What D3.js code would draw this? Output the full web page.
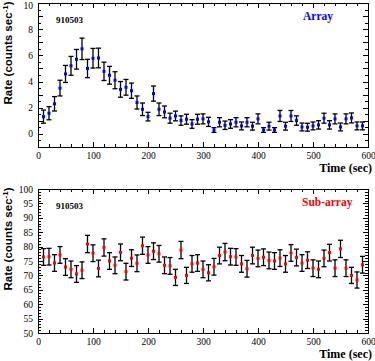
<!DOCTYPE html>
<html><head><meta charset="utf-8">
<script src="https://cdn.jsdelivr.net/npm/d3@7"></script>
<style>
html,body{margin:0;padding:0;background:#fff;}
svg{display:block;}
.tick text{font-family:"Liberation Serif",serif;font-size:9.5px;}
</style></head>
<body>
<script>
// Time bins (sec)
const times = [10,20,30,40,50,60,70,80,90,100,110,120,130,140,150,160,170,180,190,200,
  210,220,230,240,250,260,270,280,290,300,310,320,330,340,350,360,370,380,390,400,
  410,420,430,440,450,460,470,480,490,500,510,520,530,540,550,560,570,580,590];
// Array rate
const arrayRate = [1.32,1.58,2.3,3.5,4.58,5.2,5.7,6.5,5.0,5.78,5.8,4.78,4.48,4.1,3.4,3.56,3.3,2.4,1.88,1.32,
  3.08,1.88,1.68,1.2,1.37,1.02,1.12,0.76,1.12,1.15,0.92,0.3,0.89,0.66,0.76,0.89,0.61,0.89,0.59,1.15,
  0.3,0.59,0.3,1.37,0.59,1.37,1.02,0.53,0.51,0.61,0.69,1.2,0.69,1.15,0.53,1.15,1.22,0.61,0.61];
const arrayErr = [0.5,0.5,0.55,0.6,0.65,0.72,0.75,0.82,0.7,0.75,0.75,0.7,0.68,0.65,0.6,0.6,0.58,0.5,0.48,0.33,
  0.58,0.48,0.45,0.38,0.37,0.36,0.38,0.33,0.38,0.38,0.35,0.18,0.35,0.32,0.33,0.35,0.3,0.35,0.3,0.38,
  0.18,0.3,0.18,0.42,0.3,0.42,0.36,0.3,0.3,0.3,0.32,0.38,0.32,0.38,0.3,0.38,0.38,0.3,0.3];
// Sub-array rate
const subRate = [76.4,76.5,74.3,77.1,72.9,72.1,70.5,71.8,80.9,77.7,72.4,79.7,75.0,73.5,78.0,71.3,76.0,74.2,80.3,77.1,
  78.4,77.5,73.5,73.3,69.3,78.8,70.0,74.0,74.3,72.1,70.9,73.0,76.9,78.1,76.5,76.4,74.0,72.3,76.9,75.9,
  76.3,75.2,75.0,76.0,74.0,77.8,76.2,74.3,75.3,72.5,72.1,75.9,77.9,72.5,79.2,72.5,70.0,68.4,73.7];
const subErr = [2.9,2.9,2.9,2.9,2.9,2.9,2.9,2.9,3.0,2.9,2.9,3.0,2.9,2.9,2.9,2.9,2.9,2.9,3.0,2.9,
  2.9,2.9,2.9,2.9,2.8,3.0,2.8,2.9,2.9,2.9,2.8,2.9,2.9,3.0,2.9,2.9,2.9,2.9,2.9,2.9,
  2.9,2.9,2.9,2.9,2.9,2.9,2.9,2.9,2.9,2.9,2.9,2.9,2.9,2.9,3.0,2.9,2.8,2.8,2.9];
const xTicks = [0,100,200,300,400,500,600];
const topTicks = [0,2,4,6,8,10];
const botTicks = [50,55,60,65,70,75,80,85,90,95,100];

const W=375,H=361;
const svg=d3.select("body").append("svg").attr("width",W).attr("height",H);

function panel(cfg){
  const {y0,y1,domain,values,errs,color,label,yTicks,majorStep,minorStep} = cfg;
  const x=d3.scaleLinear().domain([0,600]).range([38,368]);
  const y=d3.scaleLinear().domain(domain).range([y1,y0]);
  const g=svg.append("g");
  const xMinor=d3.range(0,601,20), yMinor=d3.range(domain[0],domain[1]+1e-9,minorStep);
  const tk=g.append("g").attr("stroke","#000").attr("stroke-width",1);
  xMinor.forEach(v=>{
    const L = (v%100===0)?5:3;
    const px=Math.round(x(v))+0.5;
    tk.append("line").attr("x1",px).attr("x2",px).attr("y1",y1).attr("y2",y1-L);
    tk.append("line").attr("x1",px).attr("x2",px).attr("y1",y0).attr("y2",y0+L);
  });
  yMinor.forEach(v=>{
    const isMaj = Math.abs(v/majorStep-Math.round(v/majorStep))<1e-6;
    const L = isMaj?5:3;
    const py=Math.round(y(v))+0.5;
    tk.append("line").attr("y1",py).attr("y2",py).attr("x1",38).attr("x2",38+L);
    tk.append("line").attr("y1",py).attr("y2",py).attr("x1",368).attr("x2",368-L);
  });
  const xa=g.append("g").attr("transform",`translate(0,${y1})`)
    .call(d3.axisBottom(x).tickValues(xTicks).tickSize(0).tickPadding(5));
  xa.select(".domain").remove();
  const ya=g.append("g").attr("transform",`translate(38,0)`)
    .call(d3.axisLeft(y).tickValues(yTicks).tickSize(0).tickPadding(5));
  ya.select(".domain").remove();
  // keep the top label inside the picture
  ya.selectAll(".tick text").filter(d=>y(d)<6).attr("dy","0.6em");
  g.selectAll(".tick text").attr("fill","#000");
  g.append("rect").attr("x",38.5).attr("y",y0+0.5).attr("width",330).attr("height",y1-y0)
    .attr("fill","none").attr("stroke","#000");
  const eb=g.append("g").attr("stroke","#000").attr("stroke-width",1.3);
  times.forEach((t,i)=>{
    const cx=x(t), lo=y(values[i]-errs[i]), hi=y(values[i]+errs[i]);
    eb.append("line").attr("x1",cx).attr("x2",cx).attr("y1",lo).attr("y2",hi);
    eb.append("line").attr("x1",cx-2.5).attr("x2",cx+2.5).attr("y1",lo).attr("y2",lo);
    eb.append("line").attr("x1",cx-2.5).attr("x2",cx+2.5).attr("y1",hi).attr("y2",hi);
  });
  g.append("g").selectAll("rect").data(times).join("rect")
    .attr("x",t=>x(t)-1.5).attr("y",(t,i)=>y(values[i])-1.5)
    .attr("width",3).attr("height",3).attr("fill",color);
  g.append("text").attr("x",56).attr("y",y0+20).text("910503")
    .attr("font-family","Liberation Serif").attr("font-weight","bold").attr("font-size",9);
  g.append("text").attr("x",cfg.labX).attr("y",y0+17).text(label)
    .attr("font-family","Liberation Serif").attr("font-weight","bold").attr("font-size",11.5).attr("fill",color);
  g.append("text").attr("x",372).attr("y",y1+25).attr("text-anchor","end").text("Time (sec)")
    .attr("font-family","Liberation Serif").attr("font-weight","bold").attr("font-size",12);
  const yl=g.append("text").attr("transform",`translate(12,${(y0+y1)/2-22}) rotate(-90)`)
    .attr("text-anchor","middle").attr("font-family","Liberation Sans").attr("font-weight","bold").attr("font-size",11.5);
  yl.append("tspan").text("Rate (counts sec");
  yl.append("tspan").attr("dy",-4).attr("font-size",8).text("-1");
  yl.append("tspan").attr("dy",4).text(")");
}

panel({y0:3,y1:147,domain:[-1,10],values:arrayRate,errs:arrayErr,color:"#0000ff",label:"Array",
  yTicks:topTicks,majorStep:1,minorStep:0.5,labX:303});
panel({y0:189,y1:333,domain:[50,100],values:subRate,errs:subErr,color:"#ff0000",label:"Sub-array",
  yTicks:botTicks,majorStep:5,minorStep:1,labX:302});
</script>
</body></html>
